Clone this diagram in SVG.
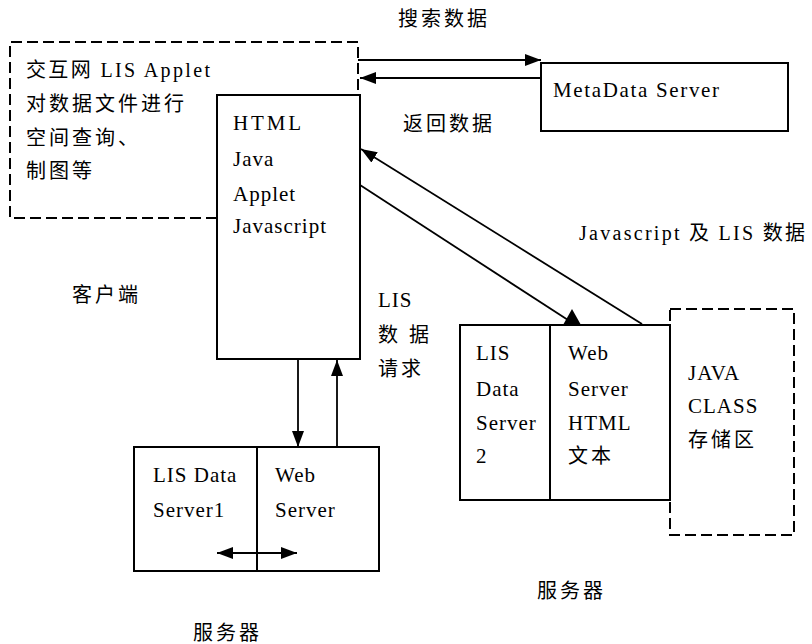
<svg xmlns="http://www.w3.org/2000/svg" width="812" height="644" viewBox="0 0 812 644">
<defs>
<style>
.box{fill:none;stroke:#000;stroke-width:2}
.dash{fill:none;stroke:#000;stroke-width:2;stroke-dasharray:11 5}
.ln{fill:none;stroke:#000;stroke-width:1.8}
.t{font-family:"Liberation Serif","Times New Roman","DejaVu Serif","Noto Sans CJK SC",serif;font-size:21px;letter-spacing:1px;fill:#000}
.c{font-family:"Liberation Serif","Times New Roman","DejaVu Serif","Noto Sans CJK SC",serif;font-size:20px;letter-spacing:3px;fill:#000}
</style>
<marker id="ah" viewBox="0 0 16 12" refX="16" refY="6" markerWidth="16" markerHeight="12" markerUnits="userSpaceOnUse" orient="auto-start-reverse">
<path d="M0,0 L16,6 L0,12 Z" fill="#000"/>
</marker>
</defs>

<g id="client">
<path class="dash" d="M217,218 L10,218 L10,42 L358,42 L358,95"/>
<text class="c" x="26" y="77" textLength="187">交互网 LIS Applet</text>
<text class="c" x="26" y="111">对数据文件进行</text>
<text class="c" x="26" y="145">空间查询、</text>
<text class="c" x="26" y="178">制图等</text>
</g>

<g id="browser">
<rect class="box" x="217" y="95" width="143" height="264"/>
<text class="t" x="233" y="130" textLength="69">HTML</text>
<text class="t" x="233" y="166">Java</text>
<text class="t" x="233" y="201">Applet</text>
<text class="t" x="233" y="233">Javascript</text>
</g>

<g id="metadata">
<rect class="box" x="541" y="63" width="247" height="68"/>
<text class="t" x="553" y="97" textLength="167">MetaData Server</text>
</g>

<g id="server1">
<rect class="box" x="134" y="447" width="245" height="124"/>
<line class="box" x1="257" y1="447" x2="257" y2="571"/>
<text class="t" x="153" y="482">LIS Data</text>
<text class="t" x="153" y="517">Server1</text>
<text class="t" x="275" y="482">Web</text>
<text class="t" x="275" y="517">Server</text>
</g>

<g id="server2">
<rect class="box" x="460" y="325" width="210" height="175"/>
<line class="box" x1="550" y1="325" x2="550" y2="500"/>
<text class="t" x="476" y="360">LIS</text>
<text class="t" x="476" y="396">Data</text>
<text class="t" x="476" y="430">Server</text>
<text class="t" x="476" y="463">2</text>
<text class="t" x="568" y="360">Web</text>
<text class="t" x="568" y="396">Server</text>
<text class="t" x="568" y="430">HTML</text>
<text class="c" x="568" y="463">文本</text>
</g>

<g id="javaclass">
<path class="dash" d="M670,309 L794,309 L794,535 L670,535 L670,309"/>
<text class="t" x="688" y="380">JAVA</text>
<text class="t" x="688" y="413">CLASS</text>
<text class="c" x="688" y="447">存储区</text>
</g>

<g id="connectors">
<line class="ln" x1="358" y1="60" x2="541" y2="60" marker-end="url(#ah)"/>
<line class="ln" x1="541" y1="78" x2="360" y2="78" marker-end="url(#ah)"/>
<line class="ln" x1="642" y1="324" x2="361" y2="149" marker-end="url(#ah)"/>
<line class="ln" x1="360" y1="185" x2="568" y2="320"/>
<polygon points="572,309 563,325 581,325" fill="#000"/>
<line class="ln" x1="298" y1="359" x2="298" y2="447" marker-end="url(#ah)"/>
<line class="ln" x1="337" y1="447" x2="337" y2="360" marker-end="url(#ah)"/>
<line class="ln" x1="217" y1="553" x2="297" y2="553" marker-start="url(#ah)" marker-end="url(#ah)"/>
</g>

<g id="labels">
<text class="c" x="398" y="26">搜索数据</text>
<text class="c" x="403" y="131">返回数据</text>
<text class="c" x="72" y="302">客户端</text>
<text class="t" x="378" y="307">LIS</text>
<text class="c" x="378" y="342" letter-spacing="0">数 据</text>
<text class="c" x="378" y="376" letter-spacing="2">请求</text>
<text class="c" x="579" y="240" textLength="229">Javascript 及 LIS 数据</text>
<text class="c" x="193" y="640">服务器</text>
<text class="c" x="537" y="598">服务器</text>
</g>
</svg>
